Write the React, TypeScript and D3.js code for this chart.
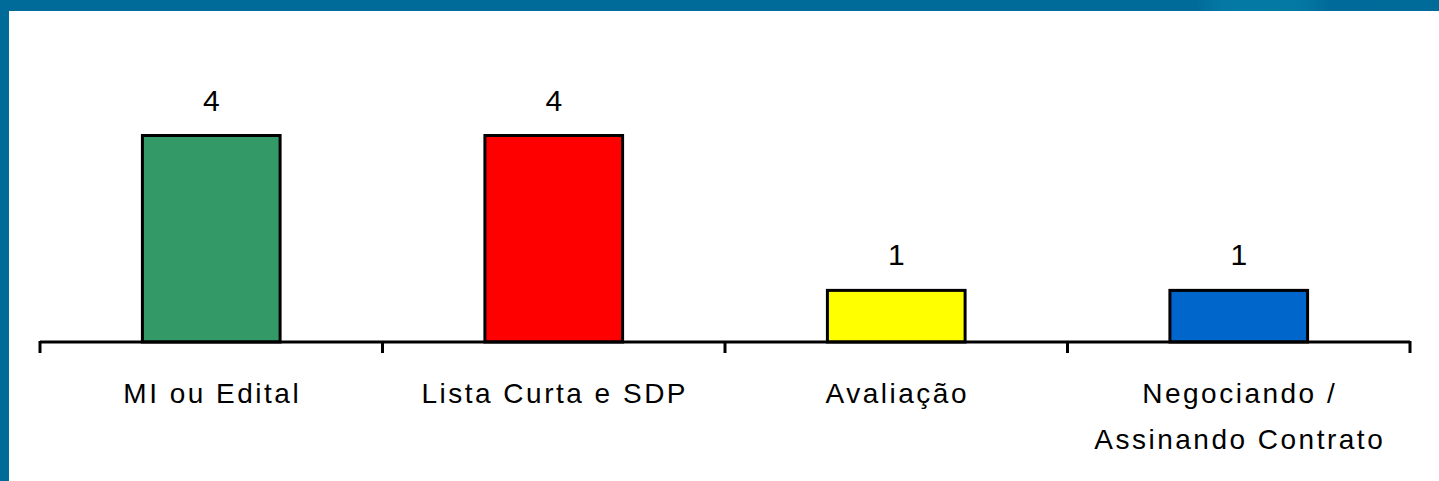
import React from "react";
import * as d3 from "d3";

const categories: string[][] = [
  ["MI ou Edital"],
  ["Lista Curta e SDP"],
  ["Avaliação"],
  ["Negociando /", "Assinando Contrato"],
];
const values: number[] = [4, 4, 1, 1];
const barColors: string[] = ["#339966", "#FF0000", "#FFFF00", "#0066CC"];

const W = 1439;
const H = 481;

export default function App() {
  const keys = categories.map((c) => c.join(" "));
  const x = d3.scaleBand<string>().domain(keys).range([40, 1410]).padding(0);
  const y = d3.scaleLinear().domain([0, 4]).range([342, 135.5]);
  const barW = x.bandwidth() * 0.402;
  const font = "'Liberation Sans', Arial, sans-serif";
  const ticks = [...keys.map((k) => x(k) as number), 1410];

  return (
    <svg
      width={W}
      height={H}
      style={{ position: "absolute", left: 0, top: 0, background: "#fff" }}
    >
      <defs>
        <linearGradient id="topGrad" x1="0" x2={W} y1="0" y2="0" gradientUnits="userSpaceOnUse">
          <stop offset="0" stopColor="#006A99" />
          <stop offset="0.83" stopColor="#006A99" />
          <stop offset="0.85" stopColor="#0479A4" />
          <stop offset="0.9" stopColor="#047AA3" />
          <stop offset="0.925" stopColor="#006A9A" />
          <stop offset="1" stopColor="#006A99" />
        </linearGradient>
      </defs>
      <rect x={0} y={0} width={W} height={11} fill="url(#topGrad)" />
      <rect x={0} y={0} width={9} height={H} fill="#006A99" />

      {keys.map((k, i) => {
        const cx = (x(k) as number) + x.bandwidth() / 2;
        return (
          <g key={k}>
            <rect
              x={cx - barW / 2}
              y={y(values[i])}
              width={barW}
              height={y(0) - y(values[i])}
              fill={barColors[i]}
              stroke="#000"
              strokeWidth={3}
            />
            <text
              x={cx}
              y={y(values[i]) - 25}
              textAnchor="middle"
              fontFamily={font}
              fontSize={30}
              fill="#000"
            >
              {values[i]}
            </text>
            {categories[i].map((line, j) => (
              <text
                key={j}
                x={cx + 1}
                y={403 + j * 46}
                textAnchor="middle"
                fontFamily={font}
                fontSize={28}
                letterSpacing={2.5}
                fill="#000"
              >
                {line}
              </text>
            ))}
          </g>
        );
      })}

      <line x1={40} x2={1410} y1={342} y2={342} stroke="#000" strokeWidth={3} />
      {ticks.map((t, i) => (
        <line key={i} x1={t} x2={t} y1={341} y2={353} stroke="#000" strokeWidth={3} />
      ))}
    </svg>
  );
}
